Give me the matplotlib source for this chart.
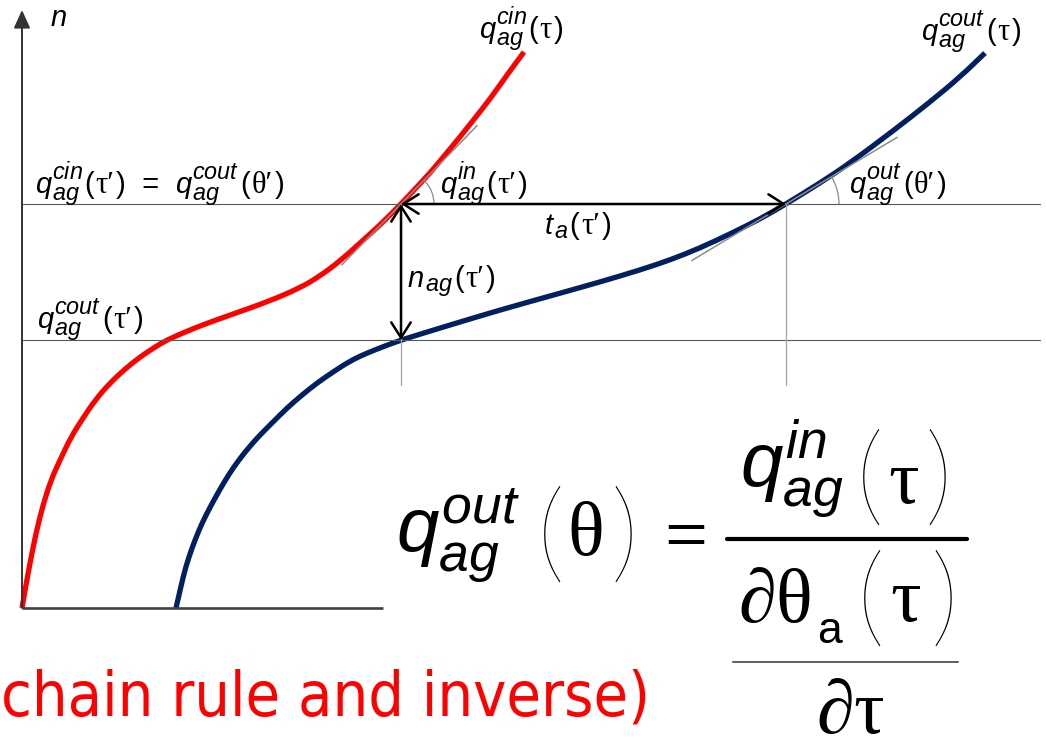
import matplotlib
matplotlib.use("Agg")
import matplotlib.pyplot as plt
from matplotlib.patches import Arc, PathPatch
from matplotlib.path import Path
import numpy as np

plt.rcParams['mathtext.fontset'] = 'custom'
plt.rcParams['mathtext.it'] = 'Liberation Sans:italic'
plt.rcParams['mathtext.rm'] = 'Liberation Serif'
plt.rcParams['mathtext.sf'] = 'Liberation Sans'
plt.rcParams['font.family'] = ['Liberation Sans', 'DejaVu Sans']

# Cumulative count n against time, for the input curve q_ag^cin and the output curve q_ag^cout
cin_tau = [0, 4, 8, 14, 21, 29, 38, 49, 61, 74, 88, 103, 118, 133, 145, 163, 183,
           211, 245, 278, 298, 318, 338, 358, 379, 393, 408, 423, 438, 453, 468, 485, 502]
cin_n = [0, 23, 45, 75, 103, 128, 148, 171, 190, 209, 225, 239, 251, 261, 268, 276, 284,
         294, 306, 320, 332, 347, 365, 383, 404, 419, 435, 453, 471, 490, 509, 533, 556]

cout_tau = [154, 159, 164, 170, 177, 184, 192, 201, 211, 223, 236, 250, 265, 280, 295, 311,
            328, 345, 363, 379, 428, 478, 528, 578, 618, 648, 678, 708, 738, 764, 798, 828,
            871, 908, 938, 963]
cout_n = [0, 22, 42, 60, 78, 93, 108, 124, 140, 156, 171, 185, 200, 213, 225, 236,
          247, 255, 262, 268, 283, 298, 312, 326, 338, 348, 360, 374, 389, 404, 425, 445,
          477, 506, 531, 555]

# Reference instants and levels
tau_p = 379        # tau'
theta_p = 764      # theta'
n_high = 404       # q_cin(tau') = q_cout(theta')
n_low = 268        # q_cout(tau')
slope_in = 1.03    # q_ag^in(tau')
slope_out = 0.60   # q_ag^out(theta')

RED = '#FF0000'
NAVY = '#002060'
GREY = '#8C8C8C'

fig = plt.figure(figsize=(10.46, 7.51), dpi=100)
ax = fig.add_axes([0, 0, 1, 1])
ax.set_xlim(-22, 1024)
ax.set_ylim(-143, 608)
ax.axis('off')
renderer = fig.canvas.get_renderer()


def P(px, py):
    """Page position (pixels from the top-left) to axes coordinates."""
    return px - 22, 608 - py


def smooth_curve(xs, ys, **kw):
    """Draw a polyline as a chain of quadratic Beziers through segment midpoints."""
    pts = np.column_stack([xs, ys]).astype(float)
    verts = [pts[0]]
    codes = [Path.MOVETO]
    for i in range(1, len(pts) - 1):
        mid = (pts[i] + pts[i + 1]) / 2
        verts += [pts[i], mid]
        codes += [Path.CURVE3, Path.CURVE3]
    verts.append(pts[-1])
    codes.append(Path.LINETO)
    ax.add_patch(PathPatch(Path(verts, codes), fill=False, capstyle='butt',
                           joinstyle='round', **kw))


# axes of the diagram
ax.annotate('', xy=(0, 598), xytext=(0, 0),
            arrowprops=dict(arrowstyle='-|>,head_length=0.55,head_width=0.25',
                            lw=1.4, color='#333333', shrinkA=0, shrinkB=0,
                            mutation_scale=20))
ax.plot([0, 361], [0, 0], color='#404040', lw=1.9, solid_capstyle='butt')

# guide lines
ax.plot([0, 1018], [n_high, n_high], color='#595959', lw=0.8)
ax.plot([0, 1018], [n_low, n_low], color='#595959', lw=0.8)
for t in (tau_p, theta_p):
    ax.plot([t, t], [n_high, 223], color='#A6A6A6', lw=0.9)

# curves
smooth_curve(cin_tau, cin_n, edgecolor=RED, lw=3.8)
smooth_curve(cout_tau, cout_n, edgecolor=NAVY, lw=3.8)

# tangents
ax.plot([tau_p - 59, tau_p + 76],
        [n_high - 59 * slope_in, n_high + 76 * slope_in], color=GREY, lw=1.1)
ax.plot([theta_p - 94, theta_p + 111],
        [n_high - 94 * slope_out, n_high + 111 * slope_out], color=GREY, lw=1.1)

# angle arcs
ax.add_patch(Arc((tau_p, n_high), 66, 66, theta1=0,
                 theta2=np.degrees(np.arctan(slope_in)), color=GREY, lw=0.9))
ax.add_patch(Arc((theta_p, n_high), 106, 106, theta1=0,
                 theta2=np.degrees(np.arctan(slope_out)), color=GREY, lw=0.9))

# travel time and accumulation arrows
arrow = dict(arrowstyle='<->,head_length=0.55,head_width=0.35', lw=1.8,
             color='black', shrinkA=0, shrinkB=0, mutation_scale=20)
ax.annotate('', xy=(tau_p, n_high), xytext=(theta_p, n_high), arrowprops=arrow)
ax.annotate('', xy=(tau_p, n_high), xytext=(tau_p, n_low), arrowprops=arrow)

# ---- labels built from pieces: italic symbol, stacked scripts, argument ----
BASE = 21
SCRIPT_MATH = 24      # mathtext shrinks scripts to ~70 %
SANS_I = dict(family='Liberation Sans', style='italic')
SANS = dict(family='Liberation Sans')
GREEK = dict(family=['Liberation Serif', 'DejaVu Serif'])


def put(x, y, s, size, **kw):
    t = ax.text(x, y, s, fontsize=size, ha='left', va='baseline', **kw)
    return t.get_window_extent(renderer).width


def rate_label(x, y, base, sub=None, sup=None, arg=None):
    x += put(x, y, base, BASE, **SANS_I)
    scripts = '{}'
    if sub:
        scripts += '_{%s}' % sub
    if sup:
        scripts += '^{%s}' % sup
    x += put(x + 1, y + 1, '$' + scripts + '$', SCRIPT_MATH) + 2
    x += put(x, y, '(', BASE, **SANS) + 1.5
    x += put(x, y, arg, BASE + 1, **GREEK) + 1.5
    x += put(x, y, ')', BASE, **SANS)
    return x


put(*P(51, 26), 'n', BASE, **SANS_I)
rate_label(*P(479, 38), 'q', 'ag', 'cin', 'τ')
rate_label(*P(921, 40), 'q', 'ag', 'cout', 'τ')
x_end = rate_label(*P(35, 193), 'q', 'ag', 'cin', 'τ′')
x_end += put(x_end, 608 - 193, '  =  ', BASE, **SANS)
rate_label(x_end, 608 - 193, 'q', 'ag', 'cout', 'θ′')
rate_label(*P(440, 193), 'q', 'ag', 'in', 'τ′')
rate_label(*P(849, 193), 'q', 'ag', 'out', 'θ′')
rate_label(*P(545, 234), 't', 'a', None, 'τ′')
rate_label(*P(408, 287), 'n', 'ag', None, 'τ′')
rate_label(*P(37, 328), 'q', 'ag', 'cout', 'τ′')

# ---- outflow rate formula ----
F = 55
PAREN = dict(fontsize=80, family=['Lato', 'Liberation Serif'], fontweight='light',
             ha='center', va='center')
ax.text(*P(396, 551), r'$q_{ag}^{out}$', fontsize=F, ha='left', va='baseline')
ax.text(*P(551, 539), '(', **PAREN)
ax.text(*P(585, 536), r'$\mathrm{\theta}$', fontsize=F, ha='center', va='center')
ax.text(*P(624, 539), ')', **PAREN)
ax.text(*P(679, 538), r'$=$', fontsize=F, ha='center', va='center')
ax.plot(*zip(P(727, 539), P(967, 539)), color='black', lw=3.0, solid_capstyle='round')

ax.text(*P(740, 487), r'$q_{ag}^{in}$', fontsize=F, ha='left', va='baseline')
ax.text(*P(870, 482), '(', **PAREN)
ax.text(*P(903, 483), r'$\mathrm{\tau}$', fontsize=F, ha='center', va='center')
ax.text(*P(938, 482), ')', **PAREN)

ax.text(*P(738, 622), r'$\partial\mathrm{\theta}$', fontsize=F, ha='left', va='baseline')
ax.text(*P(817, 643), 'a', fontsize=32, family='Liberation Sans', ha='left', va='baseline')
ax.text(*P(871, 603), '(', **PAREN)
ax.text(*P(905, 602), r'$\mathrm{\tau}$', fontsize=F, ha='center', va='center')
ax.text(*P(944, 603), ')', **PAREN)
ax.plot(*zip(P(733, 662), P(958, 662)), color='#333333', lw=1.1)
ax.text(*P(850, 749), r'$\partial\mathrm{\tau}$', fontsize=F, ha='center', va='bottom')

ax.text(*P(1, 715), 'chain rule and inverse)', fontsize=45, color=RED,
        family='DejaVu Sans', fontstretch='condensed', ha='left', va='baseline')

fig.savefig('out.png', dpi=100)
